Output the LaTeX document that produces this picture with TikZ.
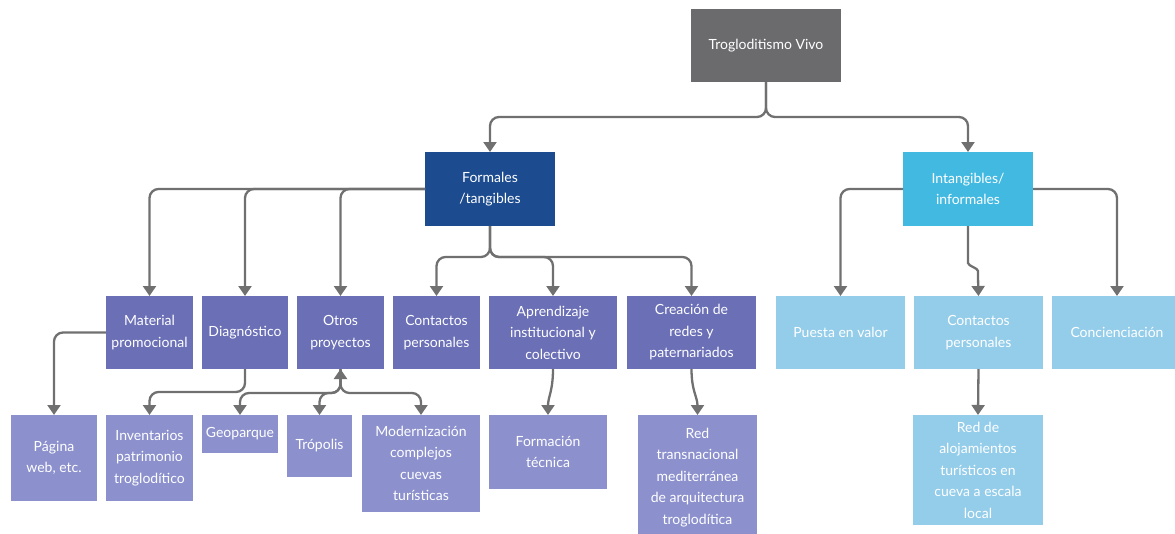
\documentclass[tikz,border=0pt]{standalone}
\usepackage{fontspec}
\setmainfont{Lato}
\usetikzlibrary{arrows.meta}
\definecolor{rootc}{HTML}{6B6B6E}
\definecolor{formc}{HTML}{1C4C8F}
\definecolor{intc}{HTML}{42B9E1}
\definecolor{purd}{HTML}{6A6FB6}
\definecolor{purl}{HTML}{8C91CD}
\definecolor{lblue}{HTML}{94CDEA}
\definecolor{lineg}{HTML}{707070}
\tikzset{
  box/.style={rectangle, inner sep=0pt, outer sep=0pt, text=white, align=center,
    font=\fontsize{14}{21.5}\selectfont},
  conn/.style={draw=lineg, line width=2.3pt, rounded corners=9pt,
    -{Triangle[width=13pt,length=10pt]}},
  both/.style={draw=lineg, line width=2.3pt, rounded corners=9pt,
    {Triangle[width=13pt,length=10pt]}-{Triangle[width=13pt,length=10pt]}},
}
\newcommand\bx[7]{\node[box,fill=#6,minimum width={(#4-#2)*1pt},minimum height={(#5-#3)*1pt}] (#1) at ({(#2+#4)/2},{(#3+#5)/2}) {#7};}
\begin{document}
\begin{tikzpicture}[x=1pt,y=-1pt]
\useasboundingbox (0,0) rectangle (1175,533);
\clip (0,0) rectangle (1175,533);
% boxes
\bx{root}{691}{9}{841}{82}{rootc}{Trogloditismo Vivo}
\bx{form}{425}{152}{555}{226}{formc}{Formales\\/tangibles}
\bx{intg}{903}{152}{1033}{226}{intc}{Intangibles/\\informales}
\bx{mat}{106}{296}{193}{369}{purd}{Material\\promocional}
\bx{diag}{202}{296}{288}{369}{purd}{Diagnóstico}
\bx{otros}{297}{296}{384}{369}{purd}{Otros\\proyectos}
\bx{cont}{393}{296}{480}{369}{purd}{Contactos\\personales}
\bx{apr}{489}{296}{617}{369}{purd}{Aprendizaje\\institucional y\\colectivo}
\bx{crea}{627}{296}{756}{369}{purd}{Creación de\\redes y\\paternariados}
\bx{pues}{776}{296}{905}{369}{lblue}{Puesta en valor}
\bx{cpr}{914}{296}{1043}{369}{lblue}{Contactos\\personales}
\bx{conc}{1052}{296}{1182}{369}{lblue}{Concienciación}
\bx{pag}{11}{415}{97}{501}{purl}{Página\\web, etc.}
\bx{inv}{106}{415}{193}{501}{purl}{Inventarios\\patrimonio\\troglodítico}
\bx{geo}{202}{415}{278}{453}{purl}{Geoparque}
\bx{trop}{287}{415}{352}{477}{purl}{Trópolis}
\bx{mod}{362}{415}{480}{512}{purl}{Modernización\\complejos\\cuevas\\turísticas}
\bx{ftec}{489}{415}{607}{489}{purl}{Formación\\técnica}
\bx{rtr}{638}{415}{757}{540}{purl}{Red\\transnacional\\mediterránea\\de arquitectura\\troglodítica}
\bx{ralo}{913}{415}{1043}{525}{lblue}{Red de\\alojamientos\\turísticos en\\cueva a escala\\local}
% connectors
\draw[conn] (root.south) -- ++(0,35) -| (form.north);
\draw[conn] (root.south) -- ++(0,35) -| (intg.north);
\draw[conn] (form.west) -| (otros.north);
\draw[conn] (form.west) -| (diag.north);
\draw[conn] (form.west) -| (mat.north);
\draw[conn] (form.south) -- ++(0,31) -| (cont.north);
\draw[conn] (form.south) -- ++(0,31) -| (apr.north);
\draw[conn] (form.south) -- ++(0,31) -| (crea.north);
\draw[conn] (intg.west) -| (pues.north);
\draw[conn] (intg.east) -| (conc.north);
\draw[conn] (intg.south) -- ++(0,28) .. controls +(0,12) and +(0,-12) .. ++(10,26) -- (cpr.north);
\draw[conn] (mat.west) -| (pag.north);
\draw[conn] (diag.south) -- ++(0,23) -| (inv.north);
\draw[both] (otros.south) -- ++(0,24) -| (geo.north);
\draw[conn] (otros.south) -- ++(0,24) -| (trop.north);
\draw[conn] (otros.south) -- ++(0,24) -| (mod.north);
\draw[conn] (apr.south) .. controls +(0,22) and +(0,-18) .. (ftec.north);
\draw[conn] (crea.south) .. controls +(0,22) and +(0,-18) .. (rtr.north);
\draw[conn] (cpr.south) -- (ralo.north);
\end{tikzpicture}
\end{document}
